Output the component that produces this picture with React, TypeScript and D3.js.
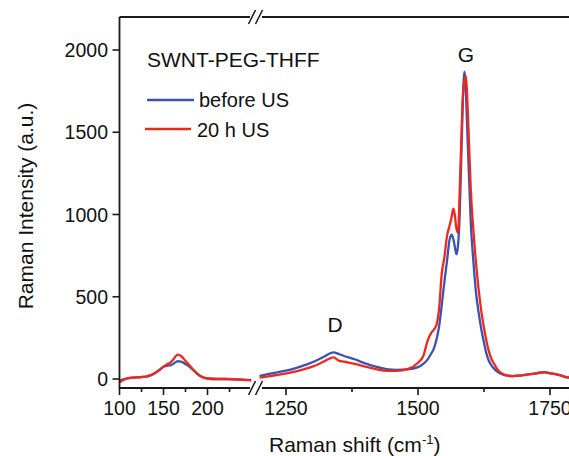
import React from "react";
import * as d3 from "d3";

// ---- data ----
const lowShift = [100, 105, 110, 115, 120, 125, 130, 135, 140, 145, 150, 155, 158, 162, 166, 170, 175, 180, 185, 190, 195, 200, 210, 220, 230, 240, 250];
const lowBefore = [-10, 0, 6, 8, 10, 12, 15, 22, 35, 52, 75, 82, 83, 95, 108, 106, 90, 72, 48, 24, 10, 3, 0, 0, -2, -4, -6];
const lowAfter = [-20, -5, 5, 8, 10, 12, 15, 22, 35, 55, 75, 92, 100, 125, 148, 140, 110, 80, 50, 25, 10, 3, 0, 0, -2, -5, -8];

const highShift = [1200, 1220, 1240, 1260, 1280, 1300, 1320, 1340, 1350, 1360, 1380, 1400, 1420, 1440, 1460, 1480, 1500, 1510, 1518, 1525, 1530, 1535, 1540, 1545, 1550, 1555, 1560, 1564, 1567, 1570, 1573, 1576, 1579, 1582, 1585, 1588, 1591, 1594, 1597, 1600, 1605, 1610, 1615, 1620, 1625, 1630, 1635, 1640, 1645, 1650, 1660, 1670, 1680, 1690, 1700, 1710, 1720, 1730, 1740, 1750, 1760, 1770, 1780, 1790, 1800];
const highBefore = [18, 32, 45, 58, 78, 102, 132, 162, 152, 140, 120, 95, 75, 60, 55, 58, 72, 92, 118, 155, 185, 240, 320, 450, 590, 720, 850, 878, 850, 800, 758, 820, 1000, 1350, 1700, 1868, 1720, 1450, 1200, 950, 710, 520, 400, 300, 220, 150, 105, 78, 60, 45, 28, 20, 18, 20, 24, 28, 32, 38, 41, 35, 30, 22, 12, 8, 5];
const highAfter = [8, 18, 28, 40, 55, 75, 103, 132, 112, 105, 92, 75, 60, 50, 50, 60, 99, 140, 230, 280, 300, 330, 430, 640, 740, 870, 935, 990, 1035, 990, 910, 890, 1150, 1450, 1720, 1815, 1840, 1650, 1400, 1150, 900, 700, 540, 410, 310, 225, 160, 115, 88, 60, 32, 20, 18, 20, 24, 28, 32, 38, 42, 35, 30, 22, 12, 8, 5];

const lowTicks = [100, 150, 200];
const lowMinor = [125, 175, 225];
const highTicks = [1250, 1500, 1750];
const highMinor = [1375, 1625];
const yTicks = [0, 500, 1000, 1500, 2000];

const seriesNames = ["before US", "20 h US"];
const seriesColors = ["#3a52b4", "#f0281c"];

const W = 569;
const H = 456;

export default function App() {
  const left = 119.5;
  const top = 17;
  const bottom = 388;
  const xLow = d3.scaleLinear().domain([100, 250]).range([left, 251.5]);
  const xHigh = d3.scaleLinear().domain([1250, 1750]).range([286, 550]);
  const y = d3.scaleLinear().domain([0, 2000]).range([379, 50]);

  const lowLine = (vals: number[]) =>
    d3
      .line<number>()
      .x((_, i) => xLow(lowShift[i]))
      .y((v) => y(v))
      .curve(d3.curveMonotoneX)(vals) || "";
  const highLine = (vals: number[]) =>
    d3
      .line<number>()
      .x((_, i) => xHigh(highShift[i]))
      .y((v) => y(v))
      .curve(d3.curveMonotoneX)(vals) || "";

  const font = "'Liberation Sans', Arial, Helvetica, sans-serif";
  const axisColor = "#1a1a1a";
  const brk = (cx: number, cy: number, k: number) => (
    <g key={k}>
      <line x1={cx - 3.5} y1={cy + 7} x2={cx + 3.5} y2={cy - 7} stroke={axisColor} strokeWidth={1.6} />
    </g>
  );

  return (
    <div style={{ position: "fixed", left: 0, top: 0 }}>
      <svg width={W} height={H} style={{ display: "block", background: "#fff" }} fontFamily={font}>
        <defs>
          <clipPath id="clipLow">
            <rect x={left} y={top} width={251.5 - left} height={bottom - top} />
          </clipPath>
          <clipPath id="clipHigh">
            <rect x={259} y={top} width={W - 259} height={bottom - top} />
          </clipPath>
        </defs>

        {/* curves */}
        <g clipPath="url(#clipLow)" fill="none" strokeWidth={2.3} strokeLinejoin="round">
          <path d={lowLine(lowBefore)} stroke={seriesColors[0]} />
          <path d={lowLine(lowAfter)} stroke={seriesColors[1]} />
        </g>
        <g clipPath="url(#clipHigh)" fill="none" strokeWidth={2.3} strokeLinejoin="round">
          <path d={highLine(highBefore)} stroke={seriesColors[0]} />
          <path d={highLine(highAfter)} stroke={seriesColors[1]} />
        </g>

        {/* frame: left axis */}
        <line x1={left} y1={top} x2={left} y2={bottom + 1} stroke={axisColor} strokeWidth={1.8} />
        {/* top border with break */}
        <line x1={left} y1={top} x2={250} y2={top} stroke={axisColor} strokeWidth={1.8} />
        <line x1={262} y1={top} x2={W} y2={top} stroke={axisColor} strokeWidth={1.8} />
        {brk(252, top, 1)}
        {brk(259, top, 2)}
        {/* bottom axis with break */}
        <line x1={left} y1={bottom} x2={250} y2={bottom} stroke={axisColor} strokeWidth={1.8} />
        <line x1={262} y1={bottom} x2={W} y2={bottom} stroke={axisColor} strokeWidth={1.8} />
        {brk(252, bottom, 3)}
        {brk(259, bottom, 4)}

        {/* y ticks */}
        {yTicks.map((t) => (
          <g key={"y" + t}>
            <line x1={left - 7} x2={left} y1={y(t)} y2={y(t)} stroke={axisColor} strokeWidth={1.6} />
            <text x={108} y={y(t) + 7} textAnchor="end" fontSize={19.5} fill="#111">
              {t}
            </text>
          </g>
        ))}

        {/* x ticks low */}
        {lowTicks.map((t) => (
          <g key={"xl" + t}>
            <line x1={xLow(t)} x2={xLow(t)} y1={bottom} y2={bottom + 7} stroke={axisColor} strokeWidth={1.6} />
            <text x={xLow(t)} y={415} textAnchor="middle" fontSize={19.5} fill="#111">
              {t}
            </text>
          </g>
        ))}
        {lowMinor.map((t) => (
          <line key={"xlm" + t} x1={xLow(t)} x2={xLow(t)} y1={bottom} y2={bottom + 4} stroke={axisColor} strokeWidth={1.6} />
        ))}
        {highTicks.map((t) => (
          <g key={"xh" + t}>
            <line x1={xHigh(t)} x2={xHigh(t)} y1={bottom} y2={bottom + 7} stroke={axisColor} strokeWidth={1.6} />
            <text x={xHigh(t)} y={415} textAnchor="middle" fontSize={19.5} fill="#111">
              {t}
            </text>
          </g>
        ))}
        {highMinor.map((t) => (
          <line key={"xhm" + t} x1={xHigh(t)} x2={xHigh(t)} y1={bottom} y2={bottom + 4} stroke={axisColor} strokeWidth={1.6} />
        ))}

        {/* axis titles */}
        <text x={269} y={452} fontSize={21} fill="#111">
          Raman shift (cm
          <tspan dy={-8} fontSize={13}>-1</tspan>
          <tspan dy={8}>)</tspan>
        </text>
        <text transform="translate(33,206) rotate(-90)" textAnchor="middle" fontSize={21} fill="#111">
          Raman Intensity (a.u.)
        </text>

        {/* title and legend */}
        <text x={147} y={67} fontSize={21} fill="#111">SWNT-PEG-THFF</text>
        <line x1={147} x2={194} y1={100} y2={100} stroke={seriesColors[0]} strokeWidth={2.3} />
        <text x={199} y={107} fontSize={20} fill="#111">{seriesNames[0]}</text>
        <line x1={145} x2={191} y1={129} y2={129} stroke={seriesColors[1]} strokeWidth={2.3} />
        <text x={197} y={136.5} fontSize={20} fill="#111">{seriesNames[1]}</text>

        {/* peak labels */}
        <text x={466} y={62} textAnchor="middle" fontSize={21} fill="#111">G</text>
        <text x={335} y={332} textAnchor="middle" fontSize={21} fill="#111">D</text>
      </svg>
    </div>
  );
}
